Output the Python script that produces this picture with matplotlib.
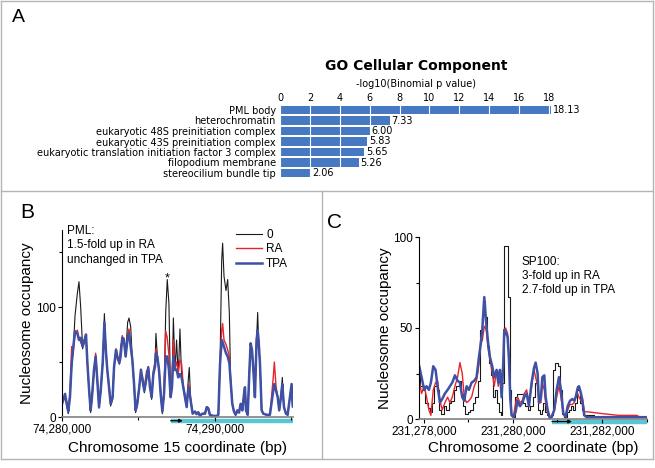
import matplotlib
matplotlib.use("Agg")
import matplotlib.pyplot as plt
import matplotlib.transforms as mtransforms
from matplotlib.lines import Line2D
from matplotlib.ticker import FuncFormatter

W, H = 655, 468
plt.rcParams['font.family'] = 'Liberation Sans'

# ================= DATA: panel A =================
go_terms = ["PML body", "heterochromatin", "eukaryotic 48S preinitiation complex",
            "eukaryotic 43S preinitiation complex",
            "eukaryotic translation initiation factor 3 complex",
            "filopodium membrane", "stereocilium bundle tip"]
go_scores = [18.13, 7.33, 6.00, 5.83, 5.65, 5.26, 2.06]

# ================= DATA: panel B (PML, chr15) =================
pml_start = 74280000
pml_kb = [0.00, 0.20, 0.31, 0.41, 0.52, 0.63, 0.74, 0.85, 1.00, 1.11,
          1.22, 1.35, 1.44, 1.57, 1.66, 1.76, 1.87, 1.96, 2.09, 2.20,
          2.31, 2.42, 2.53, 2.66, 2.77, 2.88, 2.96, 3.07, 3.18, 3.31,
          3.40, 3.53, 3.62, 3.75, 3.83, 3.94, 4.05, 4.16, 4.29, 4.38,
          4.49, 4.60, 4.71, 4.81, 4.92, 5.05, 5.16, 5.27, 5.38, 5.53,
          5.64, 5.75, 5.86, 5.97, 6.08, 6.14, 6.23, 6.34, 6.45, 6.56,
          6.67, 6.78, 6.88, 6.99, 7.10, 7.19, 7.28, 7.39, 7.49, 7.60,
          7.71, 7.82, 7.93, 8.04, 8.15, 8.26, 8.32, 8.41, 8.54, 8.69,
          8.80, 8.91, 9.02, 9.17, 9.35, 9.46, 9.56, 9.67, 9.89, 10.11,
          10.22, 10.33, 10.44, 10.50, 10.59, 10.72, 10.83, 10.94, 11.02, 11.13,
          11.24, 11.35, 11.46, 11.57, 11.68, 11.79, 11.90, 11.96, 12.03, 12.14,
          12.24, 12.33, 12.42, 12.51, 12.61, 12.72, 12.79, 12.85, 12.94, 13.05,
          13.16, 13.38, 13.59, 13.81, 13.88, 13.99, 14.10, 14.20, 14.31, 14.40,
          14.51, 14.64, 14.75, 14.90, 15.01, 15.08]
pml_zero = [15, 20, 10, 3, 18, 45, 62, 92, 112, 123,
            100, 62, 68, 74, 48, 25, 4, 16, 42, 56,
            32, 8, 22, 48, 94, 56, 44, 28, 10, 16,
            44, 62, 56, 48, 64, 70, 72, 56, 86, 90,
            82, 52, 28, 4, 10, 26, 42, 32, 22, 34,
            46, 28, 16, 38, 46, 76, 56, 42, 20, 3,
            20, 95, 125, 103, 18, 28, 90, 42, 70, 36,
            80, 36, 26, 16, 9, 35, 45, 15, 3, 5,
            3, 5, 2, 3, 4, 9, 8, 2, 1, 1,
            2, 49, 143, 158, 128, 115, 125, 94, 33, 12,
            5, 2, 6, 5, 12, 6, 21, 27, 6, 2,
            39, 67, 61, 43, 18, 70, 95, 70, 49, 6,
            3, 2, 2, 24, 30, 24, 18, 6, 18, 36,
            9, 3, 2, 18, 30, 9]
pml_ra = [12, 18, 14, 6, 22, 64, 60, 75, 79, 72,
          68, 64, 70, 72, 50, 28, 7, 18, 40, 58,
          34, 10, 25, 50, 82, 58, 42, 30, 13, 20,
          46, 60, 52, 50, 58, 74, 68, 55, 75, 80,
          66, 50, 30, 6, 14, 28, 40, 36, 26, 42,
          44, 30, 20, 42, 50, 62, 56, 44, 24, 6,
          22, 78, 72, 56, 20, 30, 70, 45, 50, 40,
          52, 48, 28, 20, 10, 30, 26, 16, 4, 4,
          2, 4, 2, 3, 3, 9, 7, 1, 1, 1,
          2, 52, 79, 85, 70, 66, 61, 55, 34, 13,
          5, 2, 6, 4, 12, 6, 22, 27, 6, 2,
          38, 65, 60, 42, 18, 72, 78, 68, 48, 6,
          3, 2, 2, 36, 50, 28, 18, 6, 18, 30,
          9, 3, 2, 18, 28, 12]
pml_tpa = [12, 21, 12, 5, 18, 48, 64, 78, 76, 70,
           72, 64, 68, 75, 49, 27, 6, 18, 43, 55,
           33, 9, 24, 49, 86, 58, 43, 27, 12, 18,
           45, 61, 55, 49, 55, 72, 70, 55, 72, 76,
           64, 52, 30, 6, 12, 27, 43, 33, 24, 36,
           45, 27, 18, 39, 46, 58, 55, 43, 21, 5,
           21, 55, 55, 43, 18, 27, 55, 43, 43, 36,
           39, 36, 27, 18, 9, 27, 24, 15, 3, 5,
           3, 4, 1, 3, 3, 9, 8, 2, 1, 1,
           2, 48, 70, 68, 64, 58, 55, 49, 33, 12,
           5, 2, 6, 4, 12, 6, 21, 27, 6, 2,
           39, 67, 61, 43, 18, 70, 79, 70, 49, 6,
           3, 2, 2, 24, 30, 24, 18, 6, 18, 30,
           9, 3, 2, 18, 30, 10]
pml_gene = (74287100, 74295100)

# ================= DATA: panel C (SP100, chr2) =================
sp_start = 231278000
sp_kb = [-0.105, -0.052, 0.007, 0.060, 0.112, 0.157, 0.210, 0.262, 0.307, 0.360,
         0.412, 0.472, 0.532, 0.584, 0.637, 0.697, 0.756, 0.809, 0.861, 0.906,
         0.959, 1.011, 1.071, 1.131, 1.183, 1.236, 1.281, 1.311, 1.356, 1.401,
         1.446, 1.483, 1.535, 1.580, 1.633, 1.670, 1.708, 1.745, 1.783, 1.805,
         1.835, 1.880, 1.910, 1.940, 1.970, 2.015, 2.060, 2.105, 2.157, 2.210,
         2.254, 2.307, 2.359, 2.419, 2.472, 2.509, 2.554, 2.584, 2.629, 2.659,
         2.704, 2.734, 2.779, 2.831, 2.869, 2.929, 2.981, 3.033, 3.078, 3.131,
         3.183, 3.228, 3.281, 3.333, 3.378, 3.408, 3.453, 3.483, 3.528, 3.558,
         3.603, 3.655, 3.992, 4.367, 4.779, 4.854, 4.981]
sp_zero = [25, 18, 16, 9, 6, 4, 9, 18, 16, 5,
           3, 7, 5, 9, 10, 16, 18, 21, 14, 7,
           3, 4, 5, 9, 12, 21, 49, 56, 65, 56,
           40, 31, 24, 12, 16, 9, 4, 2, 20, 95,
           95, 95, 67, 16, 2, 1, 12, 14, 14, 14,
           9, 7, 5, 7, 12, 20, 16, 5, 3, 5,
           9, 4, 2, 1, 2, 27, 31, 29, 16, 3,
           1, 4, 5, 7, 5, 9, 18, 16, 9, 5,
           2, 2, 1, 1, 1, 1, 1]
sp_ra = [21, 14, 18, 12, 5, 2, 16, 20, 21, 10,
         5, 9, 12, 9, 12, 18, 23, 31, 25, 12,
         9, 10, 12, 18, 21, 30, 45, 43, 51, 49,
         38, 33, 25, 18, 27, 18, 23, 16, 27, 49,
         50, 47, 34, 12, 2, 2, 9, 12, 9, 10,
         14, 16, 9, 18, 27, 23, 18, 9, 9, 20,
         16, 9, 3, 1, 2, 5, 12, 18, 12, 3,
         2, 5, 8, 8, 9, 12, 14, 12, 10, 12,
         4, 4, 3, 2, 2, 1, 1]
sp_tpa = [29, 23, 16, 18, 16, 20, 29, 27, 18, 9,
          11, 14, 16, 18, 20, 24, 21, 20, 12, 10,
          18, 16, 20, 21, 23, 34, 42, 49, 67, 52,
          41, 34, 29, 23, 27, 20, 27, 12, 31, 49,
          48, 45, 33, 11, 2, 1, 4, 10, 7, 9,
          12, 14, 7, 20, 28, 31, 25, 9, 12, 23,
          24, 12, 5, 0, 1, 5, 16, 23, 16, 3,
          1, 7, 10, 11, 10, 12, 17, 18, 14, 10,
          2, 1, 1, 1, 1, 1, 1]
sp_gene = (231280876, 231283010)

C_ZERO, C_RA, C_TPA = '#1a1a1a', '#e8232b', '#3f51a5'
CYAN = '#5bc6d3'


# ================= HELPERS =================
def box(x0, y0, x1, y1):
    return [x0 / W, 1 - y1 / H, (x1 - x0) / W, (y1 - y0) / H]


def fx(x):
    return x / W


def fy(y):
    return 1 - y / H


def tracks(ax, start, kb, zero, ra, tpa, steps=False):
    pos = [start + k * 1000 for k in kb]
    ax.plot(pos, zero, color=C_ZERO, lw=0.8,
            drawstyle='steps-mid' if steps else 'default')
    ax.plot(pos, ra, color=C_RA, lw=1.0)
    ax.plot(pos, tpa, color=C_TPA, lw=1.8)


def style(ax):
    for s in ['top', 'right']:
        ax.spines[s].set_visible(False)
    ax.spines['left'].set_linewidth(0.8)
    ax.spines['bottom'].set_color('#808080')
    ax.spines['bottom'].set_linewidth(1.2)
    ax.tick_params(which='both', direction='out', labelsize=8.5, width=0.8)
    ax.tick_params(which='major', length=3)
    ax.tick_params(which='minor', length=2)
    ax.tick_params(axis='x', pad=2)
    ax.tick_params(axis='y', pad=1.5)
    ax.xaxis.set_major_formatter(FuncFormatter(lambda v, p: f"{int(round(v)):,}"))


def gene(ax, g0, g1, yfrac, arrow_len):
    tr = mtransforms.blended_transform_factory(ax.transData, ax.transAxes)
    ax.plot([g0, g1], [yfrac, yfrac], transform=tr, color=CYAN, lw=3.2,
            solid_capstyle='butt', clip_on=False, zorder=0)
    ax.annotate('', xy=(g0 + arrow_len, yfrac), xytext=(g0, yfrac),
                xycoords=tr, textcoords=tr, annotation_clip=False,
                arrowprops=dict(arrowstyle='-|>', color='black', lw=0.9,
                                mutation_scale=5, shrinkA=0, shrinkB=0))


fig = plt.figure(figsize=(W / 100, H / 100), dpi=100)

# ================= FRAME =================
frame = '#b4b4b4'
for xs, ys in [((1, 653), (1, 1)), ((1, 653), (459, 459)),
               ((1, 1), (1, 459)), ((653, 653), (1, 459)),
               ((1, 653), (191, 191)), ((322, 322), (191, 459))]:
    fig.add_artist(Line2D([fx(x) for x in xs], [fy(y) for y in ys],
                          color=frame, lw=1))

# ================= PANEL A =================
axa = fig.add_axes(box(280, 104.75, 552, 178.25))
ypos = list(range(len(go_terms)))
axa.barh(ypos, go_scores, height=0.78, color='#4679c2', zorder=1)
axa.set_xlim(0, 18.2)
axa.set_ylim(len(go_terms) - 0.5, -0.5)
axa.xaxis.tick_top()
axa.set_xticks(range(0, 19, 2))
axa.set_yticks(ypos)
axa.set_yticklabels(go_terms)
axa.tick_params(length=0, labelsize=7, labelfontfamily='DejaVu Sans')
axa.tick_params(axis='x', pad=1)
axa.tick_params(axis='y', pad=3)
axa.grid(axis='x', color='white', lw=0.8)
axa.set_axisbelow(False)
for s in axa.spines.values():
    s.set_visible(False)
for i, v in enumerate(go_scores):
    axa.text(v + 0.12, i, f"{v:.2f}", va='center', ha='left', fontsize=7,
             family='DejaVu Sans')

fig.text(fx(416), fy(66), 'GO Cellular Component', ha='center', va='center',
         fontsize=10, fontweight='bold', family='DejaVu Sans')
fig.text(fx(416), fy(84), '-log10(Binomial p value)', ha='center', va='center',
         fontsize=7, family='DejaVu Sans')
fig.text(fx(18), fy(17), 'A', ha='center', va='center', fontsize=14)

# ================= PANEL B =================
axb = fig.add_axes(box(62, 230, 293, 417))
tracks(axb, pml_start, pml_kb, pml_zero, pml_ra, pml_tpa)
axb.set_xlim(74280000, 74295100)
axb.set_ylim(0, 170)
axb.set_xticks([74280000, 74290000])
axb.set_xticks([74285000, 74295000], minor=True)
axb.set_yticks([0, 100])
axb.set_yticks([50, 150], minor=True)
style(axb)
gene(axb, pml_gene[0], pml_gene[1], -0.02, 800)
axb.set_ylabel('Nucleosome occupancy', fontsize=11)
axb.yaxis.set_label_coords(-0.12, 0.5)
axb.set_xlabel('Chromosome 15 coordinate (bp)', fontsize=11)
axb.xaxis.set_label_coords(0.5, -0.128)
axb.text(74286880, 126, '*', ha='center', va='center', fontsize=9)
axb.legend(['0', 'RA', 'TPA'], loc='upper left',
           bbox_to_anchor=(fx(236), fy(229)), bbox_transform=fig.transFigure,
           frameon=False, fontsize=8.5, handlelength=2.2, handletextpad=0.35,
           labelspacing=0.2, borderpad=0, borderaxespad=0)
fig.text(fx(67), fy(225), 'PML:\n1.5-fold up in RA\nunchanged in TPA',
         ha='left', va='top', fontsize=8.5, linespacing=1.25)
fig.text(fx(27), fy(213), 'B', ha='center', va='center', fontsize=15)

# ================= PANEL C =================
axc = fig.add_axes(box(419, 237, 647, 419))
tracks(axc, sp_start, sp_kb, sp_zero, sp_ra, sp_tpa, steps=True)
axc.set_xlim(231277890, 231283010)
axc.set_ylim(0, 100)
axc.set_xticks([231278000, 231280000, 231282000])
axc.set_xticks([231279000, 231281000, 231283000], minor=True)
axc.set_yticks([0, 50, 100])
axc.set_yticks([25, 75], minor=True)
style(axc)
gene(axc, sp_gene[0], sp_gene[1], -0.014, 450)
axc.set_ylabel('Nucleosome occupancy', fontsize=11)
axc.yaxis.set_label_coords(-0.12, 0.5)
axc.set_xlabel('Chromosome 2 coordinate (bp)', fontsize=11)
axc.xaxis.set_label_coords(0.5, -0.121)
fig.text(fx(522), fy(256), 'SP100:\n3-fold up in RA\n2.7-fold up in TPA',
         ha='left', va='top', fontsize=8.5, linespacing=1.25)
fig.text(fx(335), fy(222), 'C', ha='center', va='center', fontsize=15)

fig.savefig('out.png', dpi=100)
